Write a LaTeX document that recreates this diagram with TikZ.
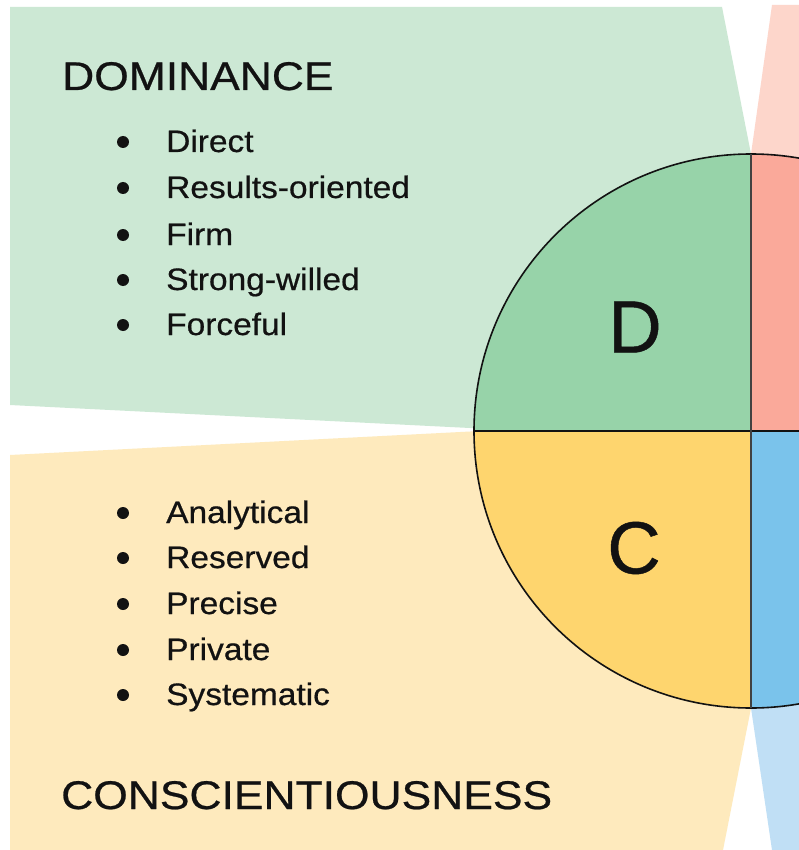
\documentclass[tikz,border=0pt]{standalone}
\usepackage{fontspec}
\setmainfont{Liberation Sans}
\newfontfamily\titlefont{Liberation Sans}[FakeStretch=1.11,FakeBold=0.6]
\newfontfamily\itemfont{Liberation Sans}[FakeStretch=1.08,FakeBold=0.6]
\newfontfamily\letterfont{Liberation Sans}[FakeBold=0.6]
\definecolor{greenL}{HTML}{CCE8D4}
\definecolor{greenD}{HTML}{97D3A9}
\definecolor{pinkL}{HTML}{FDD6CB}
\definecolor{pinkD}{HTML}{FAA99A}
\definecolor{yellowL}{HTML}{FEEABD}
\definecolor{yellowD}{HTML}{FED56E}
\definecolor{blueL}{HTML}{C0DFF5}
\definecolor{blueD}{HTML}{7AC3EB}
\definecolor{ink}{HTML}{121212}
\tikzset{
  title/.style={anchor=base west, inner sep=0pt, text=ink, font=\titlefont\fontsize{40}{42}\selectfont},
  item/.style={anchor=base west, inner sep=0pt, text=ink, font=\itemfont\fontsize{31}{33}\selectfont},
  letter/.style={inner sep=0pt, text=ink, font=\letterfont\fontsize{74}{76}\selectfont},
  bulletdot/.style={fill=ink, draw=none},
}
\begin{document}
\begin{tikzpicture}[x=1pt,y=-1pt]
\useasboundingbox (0,0) rectangle (799,850);
\fill[white] (0,0) rectangle (799,850);
\coordinate (O) at (751,431);
% fans
\fill[greenL] (10,7) -- (722,7) -- (751,154) -- (751,431) -- (480,428.5) -- (10,405) -- cycle;
\fill[yellowL] (10,455) -- (480,431) -- (751,431) -- (751,708) -- (723,850) -- (10,850) -- cycle;
\fill[pinkL] (751,154) -- (772,5) -- (799,5) -- (799,431) -- (751,431) -- cycle;
\fill[blueL] (751,708) -- (772,850) -- (799,850) -- (799,431) -- (751,431) -- cycle;
% quadrants (y axis points down, so angles run clockwise)
\fill[greenD] (O) -- ++(-277,0) arc[start angle=180, end angle=270, radius=277] -- cycle;
\fill[pinkD] (O) -- ++(0,-277) arc[start angle=270, end angle=360, radius=277] -- cycle;
\fill[yellowD] (O) -- ++(-277,0) arc[start angle=180, end angle=90, radius=277] -- cycle;
\fill[blueD] (O) -- ++(0,277) arc[start angle=90, end angle=0, radius=277] -- cycle;
\draw[line width=1.6pt, draw=ink] (O) circle[radius=277];
\draw[line width=1.5pt, draw=ink] (O) ++(-277,0) -- ++(554,0);
\draw[line width=1.1pt, draw=ink!80] (O) ++(0,-277) -- ++(0,554);
% letters
\node[letter] (D) at (635,327) {D};
\node[letter] (C) at (634,548) {C};
% titles
\node[title] (dom) at (62,90) {DOMINANCE};
\node[title] (con) at (61,809) {CONSCIENTIOUSNESS};
% D items
\foreach \t/\y [count=\i] in {Direct/152,Results-oriented/198,Firm/245,Strong-willed/290,Forceful/335}{
  \node[item] (d\i) at (166,\y) {\t};
  \fill[bulletdot] (123,\y-10) circle[radius=6];
}
\foreach \t/\y [count=\i] in {Analytical/523,Reserved/568,Precise/614,Private/660,Systematic/705}{
  \node[item] (c\i) at (166,\y) {\t};
  \fill[bulletdot] (123,\y-10) circle[radius=6];
}
\end{tikzpicture}
\end{document}
